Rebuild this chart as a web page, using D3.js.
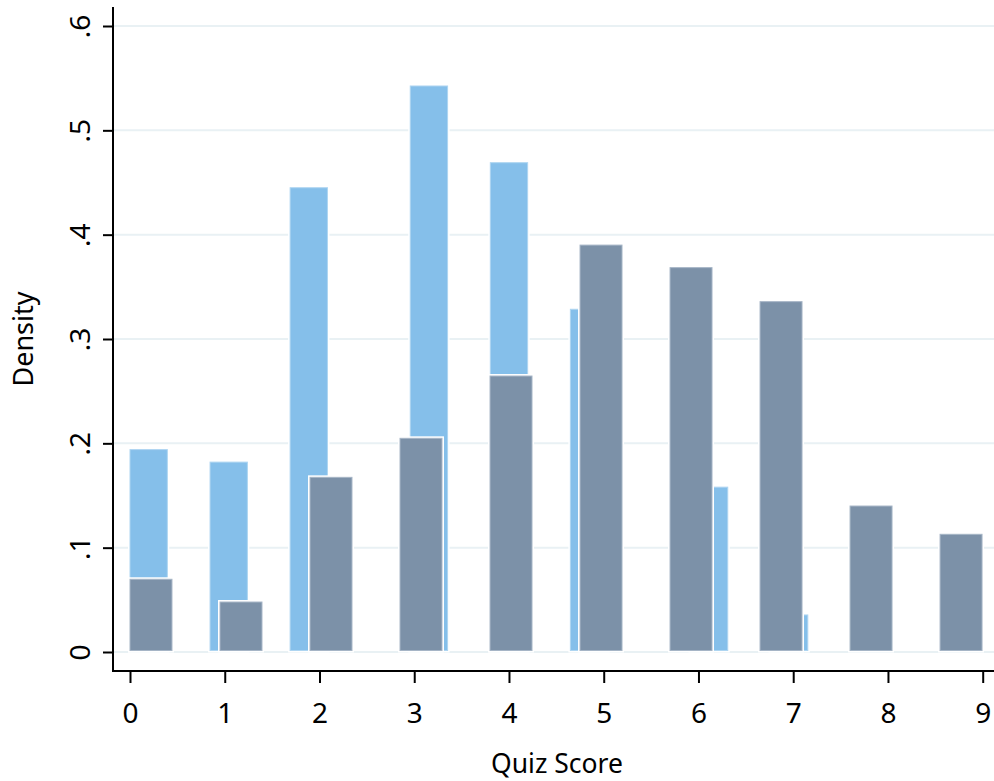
<!DOCTYPE html>
<html lang="en">
<head>
  <meta charset="UTF-8">
  <title>Quiz Score Density</title>
  <script src="https://d3js.org/d3.v7.min.js"></script>
  <style>
    body { margin: 0; background: #fff; }
    svg text { font-family: "Noto Sans", "Open Sans", sans-serif; fill: #000; }
    .grid line { stroke: #e9f1f4; stroke-width: 2; }
    .axis path, .axis line { stroke: #000; stroke-width: 2; }
  </style>
</head>
<body>
  <svg id="chart" width="994" height="781"></svg>

  <script>
    // light blue series: left edges (score units) and densities
    const blueStart = [0, 0.845, 1.69, 2.958, 3.803, 4.648, 5.915, 6.76];
    const blueDensity = [0.194, 0.182, 0.445, 0.5425, 0.469, 0.3285, 0.158, 0.0355];

    // grey series
    const greyStart = [0, 0.95, 1.9, 2.85, 3.8, 4.75, 5.7, 6.65, 7.6, 8.55];
    const greyDensity = [0.0697, 0.0479, 0.1674, 0.2048, 0.2645, 0.390, 0.3684, 0.3358, 0.1399, 0.1128];

    const xTicks = [0, 1, 2, 3, 4, 5, 6, 7, 8, 9];
    const yTicks = [0, 0.1, 0.2, 0.3, 0.4, 0.5, 0.6];
    const yTickLabels = ["0", ".1", ".2", ".3", ".4", ".5", ".6"];

    const blueWidth = 0.394, greyWidth = 0.443;

    const svg = d3.select("#chart");
    const plotLeft = 113, plotRight = 994, plotTop = 7, plotBottom = 671;

    const x = d3.scaleLinear().domain([0, 9]).range([130, 982.7]);
    const y = d3.scaleLinear().domain([0, 0.6]).range([652, 26]);

    // gridlines
    svg.append("g").attr("class", "grid")
      .selectAll("line")
      .data(yTicks)
      .enter().append("line")
      .attr("x1", plotLeft).attr("x2", plotRight)
      .attr("y1", d => y(d)).attr("y2", d => y(d));

    function drawBars(starts, vals, w, fill, edge) {
      const g = svg.append("g");
      const data = starts.map((s, i) => ({ s, v: vals[i] }));
      // white halo cuts gridlines and bars beneath
      g.selectAll(".halo").data(data).enter().append("rect")
        .attr("class", "halo")
        .attr("x", d => x(d.s))
        .attr("width", d => x(d.s + w) - x(d.s))
        .attr("y", d => y(d.v))
        .attr("height", d => y(0) - y(d.v) - 1.5)
        .attr("fill", "#fff").attr("stroke", "#fff").attr("stroke-width", 4);
      g.selectAll(".bar").data(data).enter().append("rect")
        .attr("class", "bar")
        .attr("x", d => x(d.s))
        .attr("width", d => x(d.s + w) - x(d.s))
        .attr("y", d => y(d.v))
        .attr("height", d => y(0) - y(d.v) - 1.5)
        .attr("fill", fill).attr("stroke", edge).attr("stroke-width", 1);
    }

    drawBars(blueStart, blueDensity, blueWidth, "#85bfea", "#aed5f1");
    drawBars(greyStart, greyDensity, greyWidth, "#7c91a8", "#a6b5c6");

    // y axis
    const yAxis = svg.append("g").attr("class", "axis")
      .attr("transform", `translate(${plotLeft},0)`)
      .call(d3.axisLeft(y).tickValues(yTicks).tickSize(10).tickSizeOuter(0)
        .tickFormat((d, i) => yTickLabels[i]));
    yAxis.select(".domain").remove();
    yAxis.append("line").attr("x1", 0).attr("x2", 0).attr("y1", plotTop).attr("y2", plotBottom + 1);
    yAxis.selectAll("text")
      .attr("x", null).attr("dy", null)
      .attr("transform", "translate(-23,0) rotate(-90)")
      .attr("text-anchor", "middle")
      .style("font-size", "28px");

    // x axis
    const xAxis = svg.append("g").attr("class", "axis")
      .attr("transform", `translate(0,${plotBottom})`)
      .call(d3.axisBottom(x).tickValues(xTicks).tickSize(12).tickSizeOuter(0));
    xAxis.select(".domain").remove();
    xAxis.append("line").attr("x1", plotLeft - 1).attr("x2", plotRight).attr("y1", 0).attr("y2", 0);
    xAxis.selectAll("text")
      .attr("y", 52).attr("dy", null)
      .style("font-size", "28px");

    // titles
    svg.append("text")
      .attr("transform", `translate(33,${(y(0) + y(0.6)) / 2}) rotate(-90)`)
      .attr("text-anchor", "middle")
      .style("font-size", "27px")
      .text("Density");

    svg.append("text")
      .attr("x", 557).attr("y", 773)
      .attr("text-anchor", "middle")
      .style("font-size", "26.5px")
      .text("Quiz Score");
  </script>
</body>
</html>
